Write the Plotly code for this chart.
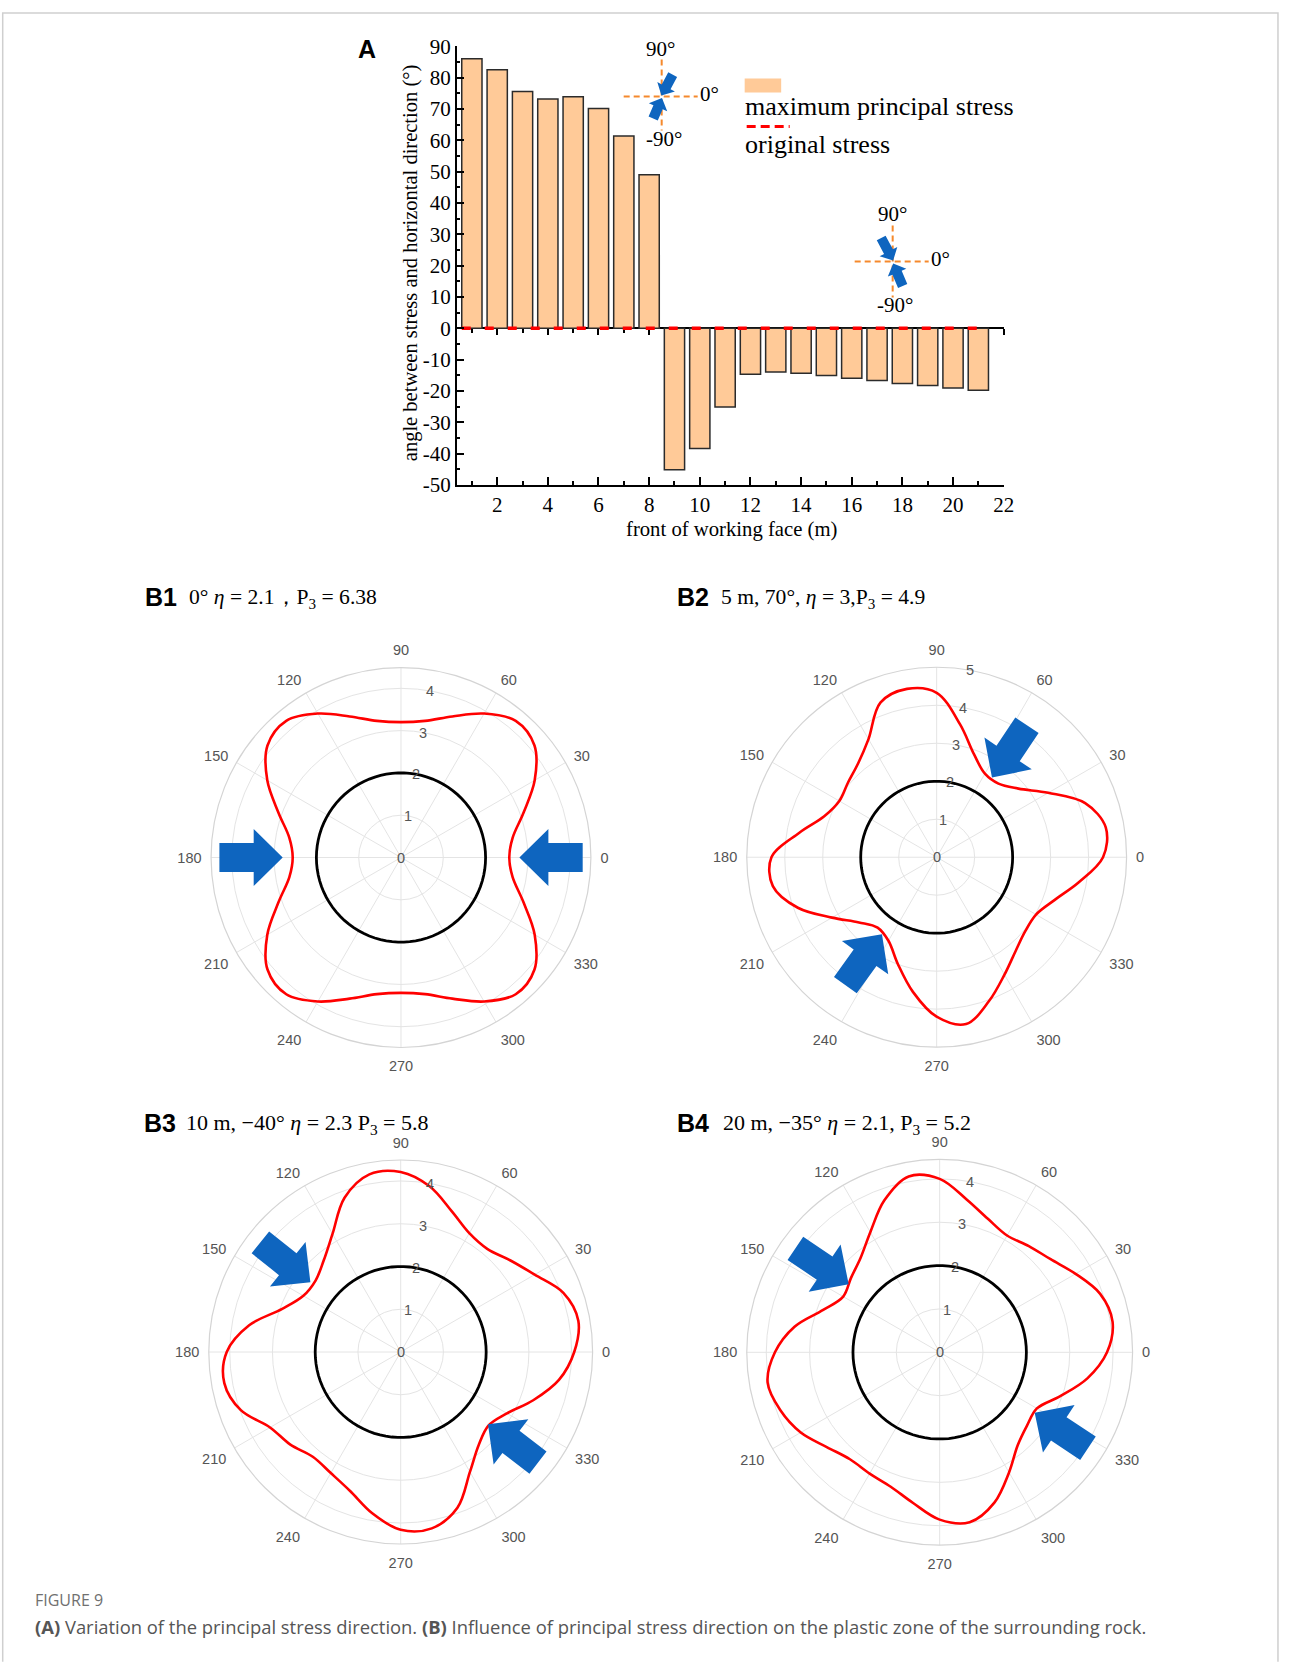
import math
import plotly.graph_objects as go

W, H = 1290, 1662

# ---------------- panel A: principal stress direction ----------------
distance_m = list(range(1, 22))
max_principal_angle = [86.0, 82.5, 75.6, 73.2, 73.9, 70.1, 61.4, 49.0,
                       -45.2, -38.4, -25.1, -14.7, -14.0, -14.4, -15.1,
                       -16.0, -16.7, -17.6, -18.3, -19.1, -19.8]
original_stress_angle = [0.0] * len(distance_m)
x_ticks = [2, 4, 6, 8, 10, 12, 14, 16, 18, 20, 22]
y_ticks = [-50, -40, -30, -20, -10, 0, 10, 20, 30, 40, 50, 60, 70, 80, 90]

# ---------------- panel B: plastic zone boundaries ----------------
theta_deg = [0, 10, 20, 30, 40, 50, 60, 70, 80, 90, 100, 110,
             120, 130, 140, 150, 160, 170, 180, 190, 200, 210, 220, 230,
             240, 250, 260, 270, 280, 290, 300, 310, 320, 330, 340, 350]
b1_r = [2.56, 2.68, 3.08, 3.65, 4.12, 4.22, 3.93, 3.55, 3.28, 3.20, 3.28, 3.55,
        3.93, 4.22, 4.12, 3.65, 3.08, 2.68, 2.56, 2.68, 3.08, 3.65, 4.12, 4.22,
        3.93, 3.55, 3.28, 3.20, 3.28, 3.55, 3.93, 4.22, 4.12, 3.65, 3.08, 2.68]
b2_r = [4.38, 4.52, 4.16, 3.39, 2.81, 2.53, 2.54, 2.88, 3.55, 4.33, 4.50, 4.33,
        3.59, 3.22, 3.05, 2.96, 3.15, 3.68, 4.35, 4.38, 3.89, 3.18, 2.67, 2.42,
        2.54, 2.99, 3.60, 4.20, 4.46, 4.03, 3.57, 3.23, 3.04, 3.02, 3.30, 3.80]
b3_r = [4.06, 4.22, 4.05, 3.62, 3.34, 3.15, 3.21, 3.50, 3.93, 4.21, 4.22, 3.84,
        3.19, 2.80, 2.60, 2.63, 2.95, 3.60, 4.07, 4.19, 3.98, 3.53, 3.37, 3.20,
        3.27, 3.46, 3.83, 4.16, 4.19, 3.88, 3.24, 2.84, 2.68, 2.87, 3.30, 3.76]
b4_r = [3.86, 4.05, 3.94, 3.62, 3.34, 3.20, 3.11, 3.27, 3.58, 4.00, 4.12, 3.73,
        3.20, 2.84, 2.67, 2.57, 2.86, 3.40, 3.80, 4.03, 3.91, 3.70, 3.40, 3.22,
        3.23, 3.30, 3.53, 3.86, 3.98, 3.69, 3.20, 2.80, 2.63, 2.59, 2.96, 3.46]
tunnel_radius = 2.0
angle_ticks = [0, 30, 60, 90, 120, 150, 180, 210, 240, 270, 300, 330]

PEACH = "#FFCA98"
ORANGE = "#F5892C"
BLUE = "#0E65BF"
SERIF = "Liberation Serif"
SANS = "Liberation Sans"
POLAR_TEXT = "#555555"

# layout positions below are given in page pixels; the page is photographed
# slightly shrunk, so map them onto paper coordinates with that factor
SX, OX = 0.9915, 1.3
SY, OY = 0.986, 11.4


def px(x):
    return ((x - OX) / SX) / W


def py(y):
    return 1 - ((y - OY) / SY) / H


fig = go.Figure()

# bars and original stress line
fig.add_trace(go.Bar(
    x=distance_m, y=max_principal_angle, width=0.8,
    marker=dict(color=PEACH, line=dict(color="#2b2b2b", width=1.5)),
    showlegend=False, xaxis="x", yaxis="y"))
line_x = [distance_m[0] - 0.4] + distance_m[1:-1] + [distance_m[-1] + 0.2]
fig.add_trace(go.Scatter(
    x=line_x, y=original_stress_angle, mode="lines",
    line=dict(color="#FF0000", width=3.5, dash="9px,14px"),
    showlegend=False, xaxis="x", yaxis="y"))
# carrier trace for the zero-line axis
fig.add_trace(go.Scatter(x=[distance_m[0]], y=[0], mode="markers",
                         marker=dict(opacity=0), showlegend=False,
                         hoverinfo="skip", xaxis="x2", yaxis="y"))

annotations = []


def text(x, y, s, size, family=SERIF, color="black", xanchor="center",
         yanchor="middle", angle=0):
    annotations.append(dict(x=px(x), y=py(y), xref="paper", yref="paper",
                            text=s, showarrow=False, xanchor=xanchor,
                            yanchor=yanchor, textangle=angle,
                            font=dict(family=family, size=size, color=color)))


# polar panels: name, radii, centre (px), plot radius (px), radial max, ticks
panels = [
    ("polar", b1_r, 402.3, 857.3, 190, 4.49, [0, 1, 2, 3, 4]),
    ("polar2", b2_r, 938, 857, 190, 5.0, [0, 1, 2, 3, 4, 5]),
    ("polar3", b3_r, 402, 1352, 192, 4.49, [0, 1, 2, 3, 4]),
    ("polar4", b4_r, 941, 1352.3, 193, 4.45, [0, 1, 2, 3, 4]),
]
label_angle = math.radians(80)
circle_theta = list(range(0, 361, 4))
layout_polars = {}
for name, rvals, cx, cy, rad, rmax, rticks in panels:
    fig.add_trace(go.Scatterpolar(
        r=[tunnel_radius] * len(circle_theta), theta=circle_theta, mode="lines",
        line=dict(color="black", width=2.8), showlegend=False, subplot=name))
    fig.add_trace(go.Scatterpolar(
        r=rvals + [rvals[0]], theta=theta_deg + [theta_deg[0]], mode="lines",
        line=dict(color="#FF0000", width=2.6, shape="spline", smoothing=1.0),
        showlegend=False, subplot=name))
    layout_polars[name] = dict(
        domain=dict(x=[px(cx - rad), px(cx + rad)], y=[py(cy + rad), py(cy - rad)]),
        bgcolor="white",
        angularaxis=dict(
            tickvals=angle_ticks, ticktext=[str(a) for a in angle_ticks],
            rotation=0, direction="counterclockwise", showline=True,
            linecolor="#d4d4d4", linewidth=1.2, gridcolor="#e4e4e4", gridwidth=1,
            ticks="outside", ticklen=6, tickcolor="rgba(0,0,0,0)",
            tickfont=dict(family=SANS, size=14.5, color=POLAR_TEXT)),
        radialaxis=dict(
            range=[0, rmax], tickvals=rticks, showticklabels=False,
            showline=False, ticks="", gridcolor="#e4e4e4", gridwidth=1),
    )
    # radial tick labels sit on the 80° ray, centred on their circle
    ppu = rad / rmax
    for t in rticks:
        text(cx + t * ppu * math.cos(label_angle),
             cy - t * ppu * math.sin(label_angle),
             str(t), 14.5, SANS, POLAR_TEXT)

# ---------------- decorations ----------------
shapes = []


def block_arrow(tail, tip, head_len, head_w, shaft_w, color=BLUE):
    tx, ty = tail
    hx, hy = tip
    dx, dy = hx - tx, hy - ty
    L = math.hypot(dx, dy)
    ux, uy = dx / L, dy / L
    nx, ny = -uy, ux
    bx, by = hx - ux * head_len, hy - uy * head_len
    pts = [
        (tx + nx * shaft_w / 2, ty + ny * shaft_w / 2),
        (bx + nx * shaft_w / 2, by + ny * shaft_w / 2),
        (bx + nx * head_w / 2, by + ny * head_w / 2),
        (hx, hy),
        (bx - nx * head_w / 2, by - ny * head_w / 2),
        (bx - nx * shaft_w / 2, by - ny * shaft_w / 2),
        (tx - nx * shaft_w / 2, ty - ny * shaft_w / 2),
    ]
    path = "M " + " L ".join(f"{px(x):.5f},{py(y):.5f}" for x, y in pts) + " Z"
    shapes.append(dict(type="path", path=path, xref="paper", yref="paper",
                       fillcolor=color, line=dict(width=0), layer="above"))


def seg(x0, y0, x1, y1, color, width, dash=None):
    ln = dict(color=color, width=width)
    if dash:
        ln["dash"] = dash
    shapes.append(dict(type="line", xref="paper", yref="paper",
                       x0=px(x0), y0=py(y0), x1=px(x1), y1=py(y1), line=ln))


# figure frame (kept just inside the drawable page)
fl, fr = max(px(4), 0.0008), min(px(1289), 0.9992)
ft, fb = min(py(5), 0.9994), py(1662)
shapes.append(dict(type="path", xref="paper", yref="paper",
                   path=f"M {fl},{fb} L {fl},{ft} L {fr},{ft} L {fr},{fb}",
                   line=dict(color="#cfcfcf", width=1.5)))

# direction sketches in panel A
seg(625, 96, 699, 96, ORANGE, 2, "6px,4px")
seg(663, 59, 663, 130, ORANGE, 2, "6px,4px")
block_arrow((674, 74), (662.7, 95), 10, 20, 10)
block_arrow((654.5, 118), (663.3, 97.5), 10, 20, 10)
seg(856, 261, 930, 261, ORANGE, 2, "6px,4px")
seg(894, 225, 894, 297, ORANGE, 2, "6px,4px")
block_arrow((882.5, 237.5), (894.5, 260), 10, 20, 10)
block_arrow((904, 285.5), (894.5, 263), 10, 20, 10)

# legend of panel A
shapes.append(dict(type="rect", xref="paper", yref="paper",
                   x0=px(746), x1=px(782.5), y0=py(92), y1=py(78),
                   fillcolor=PEACH, line=dict(width=0)))
seg(748, 126, 791, 126, "#FF0000", 3, "9px,5px")

# loading arrows in panel B
block_arrow((220.7, 857.3), (284, 857.3), 29, 57, 29)
block_arrow((584, 857.3), (520.7, 857.3), 29, 57, 29)
block_arrow((1028.3, 725), (993.3, 777.3), 29, 57, 28)
block_arrow((846.7, 985), (883.3, 934), 29, 57, 28)
block_arrow((261.7, 1242.3), (311.7, 1282.3), 29, 57, 28)
block_arrow((539.3, 1462.7), (489.3, 1424.3), 29, 57, 28)
block_arrow((796.7, 1248.3), (850, 1284.3), 29, 57, 28)
block_arrow((1089.3, 1448.3), (1036, 1412.7), 29, 57, 28)

text(368, 48, "<b>A</b>", 25, SANS)
text(412, 263, "angle between stress and horizontal direction (°)", 20.5, angle=-90)
text(733, 529, "front of working face (m)", 20.7)
text(662, 48, "90°", 21)
text(711, 93, "0°", 21)
text(665, 138, "-90°", 21)
text(894, 213, "90°", 21)
text(942, 259, "0°", 21)
text(896, 305, "-90°", 21)
text(744, 106, "maximum principal stress", 26, xanchor="left")
text(744, 144, "original stress", 26, xanchor="left")

text(144, 597, "<b>B1</b>", 25, SANS, xanchor="left")
text(188, 598, "0° <i>η</i> = 2.1，P<sub>3</sub> = 6.38", 21.6, xanchor="left")
text(676, 597, "<b>B2</b>", 25, SANS, xanchor="left")
text(720, 598, "5 m, 70°, <i>η</i> = 3,P<sub>3</sub> = 4.9", 21.6, xanchor="left")
text(143, 1123, "<b>B3</b>", 25, SANS, xanchor="left")
text(185, 1124, "10 m, −40° <i>η</i> = 2.3 P<sub>3</sub> = 5.8", 22, xanchor="left")
text(676, 1123, "<b>B4</b>", 25, SANS, xanchor="left")
text(722, 1124, "20 m, −35° <i>η</i> = 2.1, P<sub>3</sub> = 5.2", 22, xanchor="left")

text(34, 1600, "FIGURE 9", 16, "Open Sans", "#707070", xanchor="left")
text(34, 1627, "<b>(A)</b> Variation of the principal stress direction. <b>(B)</b> Influence of "
     "principal stress direction on the plastic zone of the surrounding rock.",
     18.4, "Open Sans", "#555555", xanchor="left")

# ---------------- axes ----------------
y_bottom, y_top = 484.5, 45.7
y_dom = [py(y_bottom), py(y_top)]
y_range = [-50, 90]
zero_pos = y_dom[0] + (0 - y_range[0]) / (y_range[1] - y_range[0]) * (y_dom[1] - y_dom[0])
x_dom = [px(458), px(1005)]
x_range = [0.4, 22]

tickfont = dict(family=SERIF, size=21, color="black")
fig.update_layout(
    width=W, height=H, margin=dict(l=0, r=0, t=0, b=0),
    paper_bgcolor="white", plot_bgcolor="rgba(0,0,0,0)",
    showlegend=False,
    xaxis=dict(domain=x_dom, range=x_range, tickvals=x_ticks, ticks="inside",
               ticklen=8, tickwidth=1.5, tickcolor="black", showline=True,
               linecolor="black", linewidth=1.5, showgrid=False, zeroline=False,
               tickfont=tickfont, anchor="y",
               minor=dict(ticks="inside", ticklen=4, dtick=1, tick0=0,
                          tickcolor="black", tickwidth=1.5, showgrid=False)),
    xaxis2=dict(overlaying="x", anchor="free", position=zero_pos, range=x_range,
                tickvals=x_ticks, ticks="outside", ticklen=6, tickwidth=1.5,
                tickcolor="black", showticklabels=False, showline=True,
                linecolor="black", linewidth=1.5, showgrid=False, zeroline=False,
                layer="below traces",
                minor=dict(ticks="outside", ticklen=4, dtick=1, tick0=0,
                           tickcolor="black", tickwidth=1.5, showgrid=False)),
    yaxis=dict(domain=y_dom, range=y_range, tickvals=y_ticks,
               ticktext=[str(v) for v in y_ticks], ticks="inside", ticklen=8,
               tickwidth=1.5, tickcolor="black", showline=True, linecolor="black",
               linewidth=1.5, showgrid=False, zeroline=False, tickfont=tickfont,
               anchor="x",
               minor=dict(ticks="inside", ticklen=4, dtick=5, tick0=0,
                          tickcolor="black", tickwidth=1.5, showgrid=False)),
    shapes=shapes, annotations=annotations,
    **layout_polars,
)

fig.write_html("out.html")
